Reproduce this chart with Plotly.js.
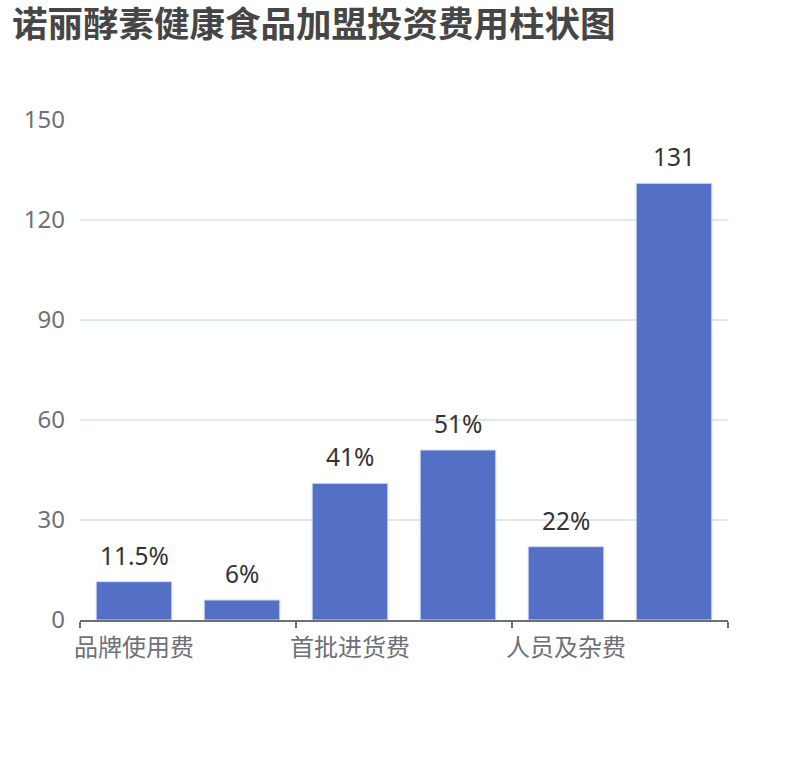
<!DOCTYPE html>
<html>
<head>
<meta charset="utf-8">
<script src="https://cdn.plot.ly/plotly-3.0.1.min.js"></script>
<style>
  html, body { margin: 0; padding: 0; background: #fff; }
  #chart { width: 810px; height: 760px; }
</style>
</head>
<body>
<div id="chart"></div>
<script>
// data
const categories = ['品牌使用费', '加盟保证金', '首批进货费', '店面装修费', '人员及杂费', '总投资'];
const values = [11.5, 6, 41, 51, 22, 131];
const labels = ['11.5%', '6%', '41%', '51%', '22%', '131'];
const shownLabels = ['品牌使用费', '首批进货费', '人员及杂费', ''];
const yTicks = [0, 30, 60, 90, 120, 150];

const font = '"Noto Sans", "Noto Sans CJK SC", sans-serif';
const idx = categories.map((c, i) => i);

const trace = {
  type: 'bar',
  x: idx,
  y: values,
  width: 0.7,
  hovertext: categories,
  marker: { color: '#5470c6', line: { color: '#d3dbf2', width: 1 } },
  hoverinfo: 'text+y'
};

// value labels above bars
const annotations = idx.map(i => ({
  x: i,
  y: values[i],
  text: labels[i],
  showarrow: false,
  yanchor: 'bottom',
  yshift: 8,
  font: { family: font, size: 24.5, color: '#333333' }
}));

const layout = {
  width: 810,
  height: 760,
  paper_bgcolor: '#ffffff',
  plot_bgcolor: '#ffffff',
  margin: { l: 80, r: 82, t: 120, b: 140 },
  showlegend: false,
  title: {
    text: '诺丽酵素健康食品加盟投资费用柱状图',
    x: 12 / 810,
    xanchor: 'left',
    xref: 'container',
    y: 1 - 25 / 760,
    yanchor: 'middle',
    yref: 'container',
    font: { family: font, size: 35.5, color: '#464646', weight: 'bold' }
  },
  xaxis: {
    range: [-0.5, 5.5],
    tickmode: 'array',
    tickvals: [-0.5, 1.5, 3.5, 5.5],
    ticktext: shownLabels,
    ticklabelshift: 54,
    ticks: 'outside',
    ticklen: 6,
    tickwidth: 1.5,
    tickcolor: '#6e7079',
    showline: true,
    linecolor: '#6e7079',
    linewidth: 1.5,
    showgrid: false,
    zeroline: false,
    fixedrange: true,
    tickfont: { family: font, size: 24, color: '#6e7079' }
  },
  yaxis: {
    range: [0, 150],
    tickmode: 'array',
    tickvals: yTicks,
    ticks: '',
    ticklabelstandoff: 14,
    showline: false,
    showgrid: true,
    gridcolor: '#e0e6f1',
    gridwidth: 1.5,
    zeroline: false,
    fixedrange: true,
    tickfont: { family: font, size: 24, color: '#6e7079' }
  },
  annotations: annotations
};

Plotly.newPlot('chart', [trace], layout, { displayModeBar: false, staticPlot: true });
</script>
</body>
</html>
